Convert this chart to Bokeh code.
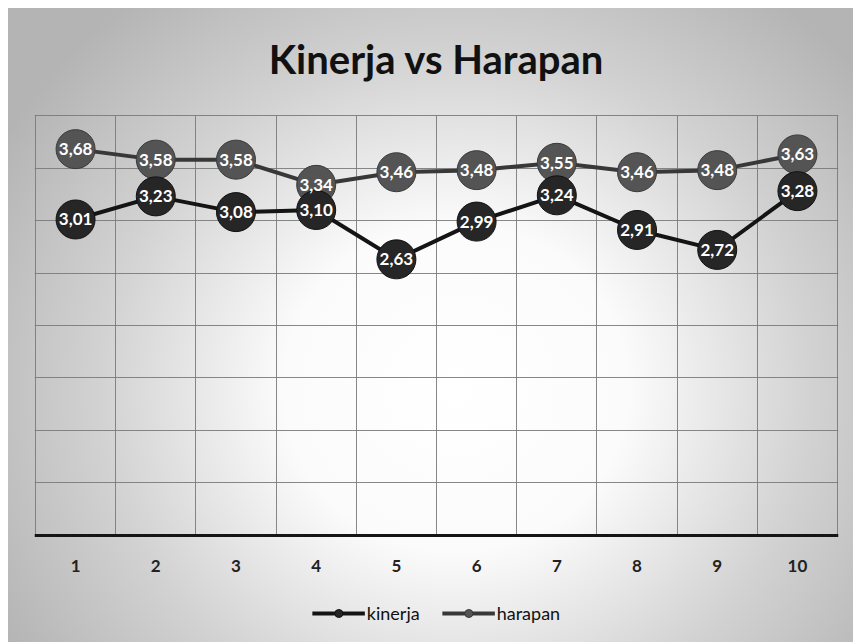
from bokeh.plotting import figure
from bokeh.models import ColumnDataSource, Range1d, FixedTicker, Legend, LegendItem
from bokeh.core.properties import value
from bokeh.embed import file_html
from bokeh.resources import INLINE

# ---- data ----
periods = [1, 2, 3, 4, 5, 6, 7, 8, 9, 10]
tick_labels = ["1", "2", "3", "4", "5", "6", "7", "8", "9", "10"]
kinerja = [3.01, 3.23, 3.08, 3.10, 2.63, 2.99, 3.24, 2.91, 2.72, 3.28]
harapan = [3.68, 3.58, 3.58, 3.34, 3.46, 3.48, 3.55, 3.46, 3.48, 3.63]
series_names = ["kinerja", "harapan"]
title_text = "Kinerja vs Harapan"
y_grid_values = [0.5, 1.0, 1.5, 2.0, 2.5, 3.0, 3.5, 4.0]


def fmt(v):
    return f"{v:.2f}".replace(".", ",")


src_k = ColumnDataSource(dict(x=periods, y=kinerja, lab=[fmt(v) for v in kinerja]))
src_h = ColumnDataSource(dict(x=periods, y=harapan, lab=[fmt(v) for v in harapan]))

# y range extends below 0 so the frame also holds the axis labels and legend;
# small pads keep the border grid lines (x = 0.5 / 10.5, y = 4) visible
p = figure(
    width=853, height=642,
    x_range=Range1d(0.488, 10.512), y_range=Range1d(-1.02, 4.01),
    output_backend="svg", toolbar_location=None,
    min_border_left=34, min_border_right=15, min_border_top=113, min_border_bottom=0,
    title=title_text,
)
p.border_fill_color = None
p.background_fill_color = None
p.outline_line_color = None
p.styles = {
    "background": (
        "radial-gradient(ellipse 62% 78% at 53% 60%, #ffffff 0%, #fbfbfb 33%, #d2d2d2 68%, #b4b4b4 100%) "
        "8px 8px / calc(100% - 8px) calc(100% - 8px) no-repeat, #ffffff"
    ),
}

# title
p.title.text_font = "Lato"
p.title.text_font_style = "bold"
p.title.text_font_size = "40px"
p.title.text_color = "#111111"
p.title.align = "center"
p.title.standoff = 64

# axes
p.yaxis.visible = False
xa = p.xaxis[0]
xa.fixed_location = 0
xa.ticker = FixedTicker(ticks=periods)
xa.major_label_overrides = {pp: t for pp, t in zip(periods, tick_labels)}
xa.major_tick_line_color = None
xa.minor_tick_line_color = None
xa.axis_line_width = 3
xa.axis_line_color = "#151515"
xa.major_label_text_font = "Lato"
xa.major_label_text_font_style = "bold"
xa.major_label_text_font_size = "17px"
xa.major_label_text_color = "#222222"
xa.major_label_standoff = 19

# grid
p.xgrid.ticker = FixedTicker(ticks=[x + 0.5 for x in [0] + periods])
p.xgrid.cross_bounds = (0, 4)
p.ygrid.ticker = FixedTicker(ticks=y_grid_values)
for g in (p.xgrid[0], p.ygrid[0]):
    g.grid_line_color = "#7a7a7a"
    g.grid_line_width = 1
    g.grid_line_alpha = 0.9

# series
lh = p.line("x", "y", source=src_h, line_color="#383838", line_width=4)
sh = p.scatter("x", "y", source=src_h, size=39, fill_color="#545454", line_color="#3a3a3a", line_width=1)
lk = p.line("x", "y", source=src_k, line_color="#141414", line_width=4)
sk = p.scatter("x", "y", source=src_k, size=39, fill_color="#262626", line_color="#111111", line_width=1)

for s in (src_h, src_k):
    p.text("x", "y", text="lab", source=s, text_align="center", text_baseline="middle",
           text_color="white", text_font=value("Lato"), text_font_style="bold",
           text_font_size="17px")

legend = Legend(
    items=[LegendItem(label=series_names[0], renderers=[lk, sk]),
           LegendItem(label=series_names[1], renderers=[lh, sh])],
    orientation="horizontal", location="bottom_center",
    background_fill_alpha=0, border_line_color=None,
    label_text_font="Lato", label_text_font_size="18px", label_text_color="#111111",
    glyph_width=53, glyph_height=20, label_standoff=2, spacing=22, padding=2, margin=18,
)
p.add_layout(legend, "center")

open("out.html", "w").write(file_html(p, INLINE))
